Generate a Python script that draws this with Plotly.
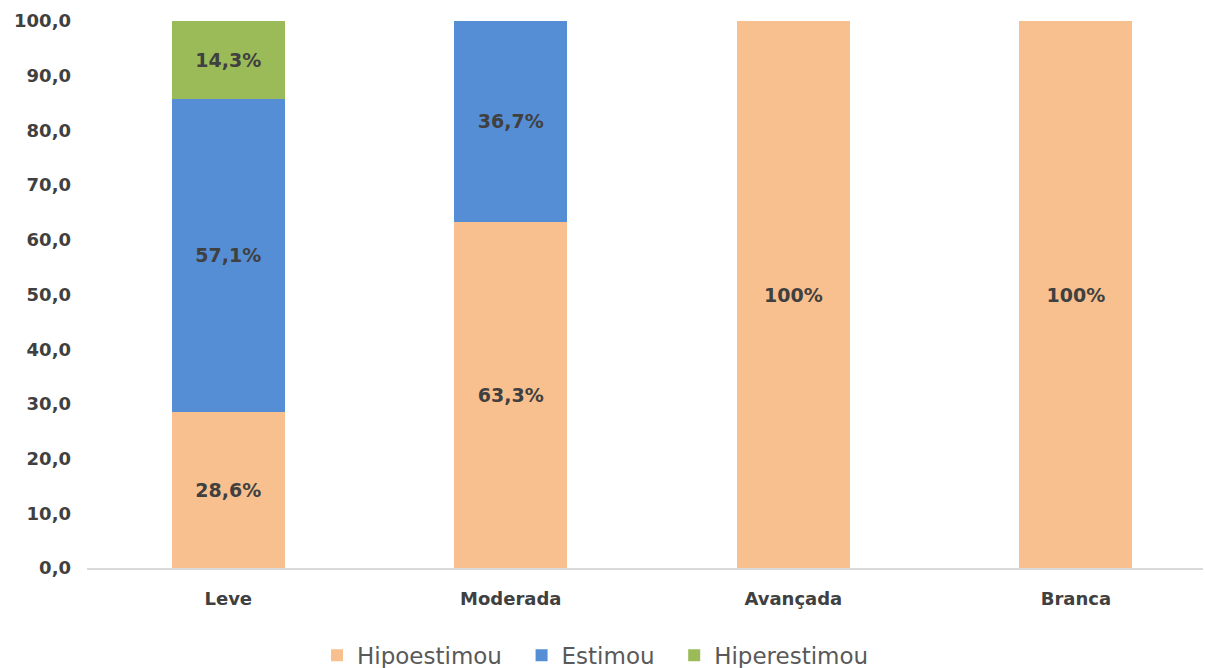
import plotly.graph_objects as go

categories = ["Leve", "Moderada", "Avançada", "Branca"]
hipo = [28.6, 63.3, 100, 100]
estimou = [57.1, 36.7, 0, 0]
hiper = [14.3, 0, 0, 0]
hipo_text = ["28,6%", "63,3%", "100%", "100%"]
estimou_text = ["57,1%", "36,7%", "", ""]
hiper_text = ["14,3%", "", "", ""]
series_names = ["Hipoestimou", "Estimou", "Hiperestimou"]
y_ticks = [0, 10, 20, 30, 40, 50, 60, 70, 80, 90, 100]

colors = {"Hipoestimou": "#F9C08F", "Estimou": "#558ED5", "Hiperestimou": "#9BBB59"}

fig = go.Figure()
for name, vals, txt in zip(series_names, [hipo, estimou, hiper],
                           [hipo_text, estimou_text, hiper_text]):
    fig.add_trace(go.Bar(
        x=categories, y=vals, name=name + "\u00a0\u00a0", text=txt,
        textposition="inside", insidetextanchor="middle",
        textfont=dict(family="DejaVu Sans", size=19, color="#404040", weight="bold"),
        marker=dict(color=colors[name], line=dict(width=0)),
        width=0.4, hoverinfo="skip",
    ))

fig.update_layout(
    barmode="stack",
    width=1205, height=668,
    margin=dict(l=87, r=2, t=21, b=100),
    paper_bgcolor="white", plot_bgcolor="white",
    separators=",.",
    legend=dict(orientation="h", x=0.5, xanchor="center", xref="container",
                y=0.019, yanchor="middle", yref="container",
                font=dict(family="DejaVu Sans", size=23, color="#595959"),
                traceorder="normal", itemwidth=30),
    xaxis=dict(range=[-0.5, 3.45], showgrid=False, showline=True, linecolor="#D9D9D9",
               linewidth=1.5, ticks="", ticklabelstandoff=14,
               tickfont=dict(family="DejaVu Sans", size=18, color="#404040", weight="bold"),
               fixedrange=True),
    yaxis=dict(range=[0, 100], tickvals=y_ticks, tickformat=".1f", showgrid=False,
               zeroline=False, showline=False, ticks="",
               tickfont=dict(family="DejaVu Sans", size=18, color="#404040", weight="bold"),
               ticklabelstandoff=15),
)

fig.write_html("out.html")
